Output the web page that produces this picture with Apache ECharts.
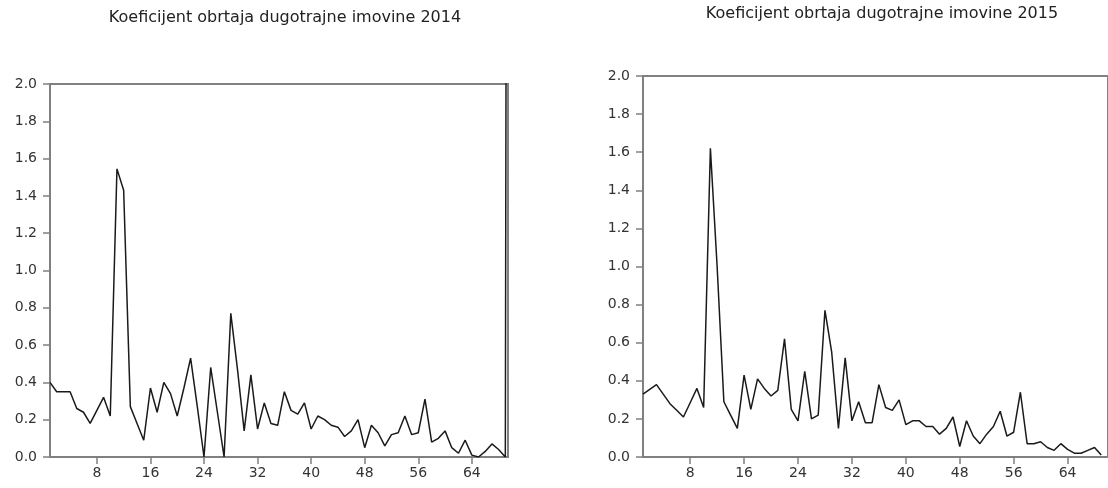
<!DOCTYPE html>
<html><head><meta charset="utf-8">
<script src="https://cdn.jsdelivr.net/npm/echarts@6/dist/echarts.min.js"></script>
<style>html,body{margin:0;padding:0;background:#fff}#c{width:1108px;height:488px}</style>
</head><body><div id="c"></div>
<script>
const title2014 = 'Koeficijent obrtaja dugotrajne imovine 2014';
const title2015 = 'Koeficijent obrtaja dugotrajne imovine 2015';
const firstIndex = 1;
const values2014 = [0.40,0.35,0.35,0.35,0.26,0.24,0.18,0.25,0.32,0.22,
  1.545,1.43,0.27,0.18,0.09,0.37,0.24,0.40,0.34,0.22,
  0.37,0.53,0.27,0.0,0.48,0.24,0.0,0.77,0.47,0.14,
  0.44,0.15,0.29,0.18,0.17,0.35,0.25,0.23,0.29,0.15,
  0.22,0.20,0.17,0.16,0.11,0.14,0.20,0.05,0.17,0.13,
  0.06,0.12,0.13,0.22,0.12,0.13,0.31,0.08,0.10,0.14,
  0.05,0.02,0.09,0.01,0.0,0.03,0.07,0.04,0.0,20];
const values2015 = [0.33,0.355,0.38,0.33,0.28,0.245,0.21,0.285,0.36,0.26,
  1.62,1.0,0.29,0.22,0.15,0.43,0.25,0.41,0.36,0.32,
  0.35,0.62,0.25,0.19,0.45,0.20,0.22,0.77,0.55,0.15,
  0.52,0.19,0.29,0.18,0.18,0.38,0.26,0.245,0.30,0.17,
  0.19,0.19,0.16,0.16,0.12,0.15,0.21,0.055,0.19,0.11,
  0.07,0.12,0.16,0.24,0.11,0.13,0.34,0.07,0.07,0.08,
  0.05,0.035,0.07,0.04,0.02,0.02,0.035,0.05,0.01];
const xTickStep = 8;
const yMin = 0, yMax = 2, yStep = 0.2;

const toPairs = arr => arr.map((v, i) => [firstIndex + i, v]);
const font = '"DejaVu Sans", sans-serif';
const axisGray = '#808080';

function xAxis(gridIndex, max) {
  return {
    type: 'value', gridIndex, min: firstIndex, max,
    minInterval: xTickStep, maxInterval: xTickStep,
    axisLine: {show: true, lineStyle: {color: axisGray, width: 2}},
    axisTick: {show: true, length: 7, lineStyle: {color: axisGray, width: 1.5}},
    axisLabel: {showMinLabel: false, showMaxLabel: false, color: '#333', fontSize: 14, fontFamily: font, margin: 9},
    splitLine: {show: false}
  };
}
function yAxis(gridIndex) {
  return {
    type: 'value', gridIndex, min: yMin, max: yMax, interval: yStep,
    axisLine: {show: true, lineStyle: {color: axisGray, width: 2}},
    axisTick: {show: true, length: 7, lineStyle: {color: axisGray, width: 1.5}},
    axisLabel: {color: '#333', fontSize: 14, fontFamily: font, margin: 13,
      formatter: v => v.toFixed(1)},
    splitLine: {show: false}
  };
}
const chart = echarts.init(document.getElementById('c'), null, {renderer: 'canvas'});
chart.setOption({
  animation: false,
  backgroundColor: '#fff',
  title: [
    {text: title2014, left: 280, top: 5, textAlign: 'center',
      textStyle: {fontSize: 16, fontWeight: 'normal', color: '#222', fontFamily: font}},
    {text: title2015, left: 877, top: 1, textAlign: 'center',
      textStyle: {fontSize: 16, fontWeight: 'normal', color: '#222', fontFamily: font}}
  ],
  grid: [
    {left: 50, top: 84, width: 458, bottom: 31, show: true, borderColor: axisGray, borderWidth: 2},
    {left: 643, top: 76, right: -6, bottom: 31, show: true, borderColor: axisGray, borderWidth: 2}
  ],
  xAxis: [xAxis(0, 69.4), xAxis(1, 70)],
  yAxis: [yAxis(0), yAxis(1)],
  series: [
    {type: 'line', xAxisIndex: 0, yAxisIndex: 0, data: toPairs(values2014), showSymbol: false, symbol: 'none',
      lineStyle: {color: '#1a1a1a', width: 1.5}, clip: true},
    {type: 'line', xAxisIndex: 1, yAxisIndex: 1, data: toPairs(values2015), showSymbol: false, symbol: 'none',
      lineStyle: {color: '#1a1a1a', width: 1.5}, clip: true}
  ]
});
</script></body></html>
